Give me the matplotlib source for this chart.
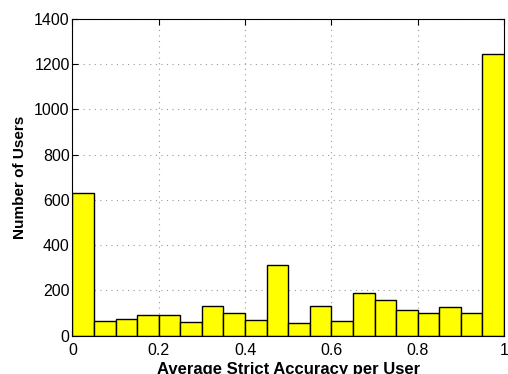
import numpy as np
import matplotlib
matplotlib.use('Agg')
import matplotlib.pyplot as plt

plt.rcParams['font.family'] = ['Liberation Sans', 'DejaVu Sans']

# users per accuracy bin (20 bins of width 0.05)
bin_edges = np.linspace(0, 1, 21)
user_counts = [631, 63, 72, 90, 90, 59, 132, 100, 69, 312,
               56, 132, 65, 187, 160, 112, 99, 125, 101, 1247]

fig = plt.figure(figsize=(5.08, 3.74), dpi=100)
ax = fig.add_axes([0.1427, 0.1024, 0.8493, 0.8468])

centers = (bin_edges[:-1] + bin_edges[1:]) / 2
ax.hist(centers, bins=bin_edges, weights=user_counts,
        facecolor='#ffff00', edgecolor='black', linewidth=1.0, zorder=2)

ax.set_xlim(0, 1)
ax.set_ylim(0, 1400)
ax.set_xticks([0, 0.2, 0.4, 0.6, 0.8, 1])
ax.set_xticklabels(['0', '0.2', '0.4', '0.6', '0.8', '1'])
ax.set_yticks(range(0, 1401, 200))
ax.tick_params(direction='in', top=True, right=True, labelsize=11.5, length=4)
ax.tick_params(axis='x', pad=5)
ax.tick_params(axis='y', pad=2)
ax.grid(True, linestyle=(0, (1, 4)), color='#999999', linewidth=0.8, zorder=0)
ax.set_axisbelow(True)

ax.set_xlabel('Average Strict Accuracy per User', fontsize=12, fontweight='bold', labelpad=3)
ax.set_ylabel('Number of Users', fontsize=11, fontweight='bold', labelpad=5)

fig.savefig('out.png', dpi=100)
